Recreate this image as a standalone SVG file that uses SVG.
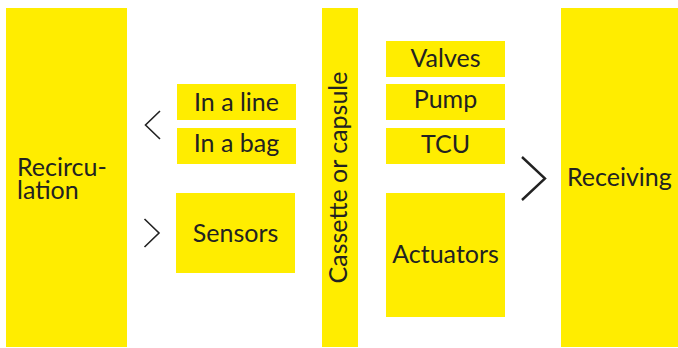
<svg xmlns="http://www.w3.org/2000/svg" width="678" height="348" viewBox="0 0 678 348">
  <style>
    .box { fill: #FFED00; }
    .lbl { font-family: Lato, "Liberation Sans", sans-serif; font-weight: 400; font-size: 25px; fill: #222222; }
    .mid { text-anchor: middle; }
    .chev { fill: none; stroke: #222222; stroke-linecap: butt; stroke-linejoin: miter; }
  </style>
  <rect width="678" height="348" fill="#ffffff"/>

  <g id="recirculation">
    <rect class="box" x="6" y="8" width="121" height="339"/>
    <text class="lbl" x="17" y="175.5">Recircu-<tspan x="17" dy="23">lation</tspan></text>
  </g>

  <g id="in-a-line">
    <rect class="box" x="177" y="84" width="119" height="36"/>
    <text class="lbl mid" x="236.5" y="111">In a line</text>
  </g>

  <g id="in-a-bag">
    <rect class="box" x="177" y="128" width="119" height="36"/>
    <text class="lbl mid" x="236.5" y="152">In a bag</text>
  </g>

  <g id="sensors">
    <rect class="box" x="176" y="193" width="119" height="80"/>
    <text class="lbl mid" x="235.5" y="242">Sensors</text>
  </g>

  <g id="cassette">
    <rect class="box" x="322" y="8" width="36" height="339"/>
    <text class="lbl mid" transform="translate(347 177.5) rotate(-90)" x="0" y="0">Cassette or capsule</text>
  </g>

  <g id="valves">
    <rect class="box" x="386" y="41" width="119" height="36"/>
    <text class="lbl mid" x="445.5" y="67">Valves</text>
  </g>

  <g id="pump">
    <rect class="box" x="386" y="84" width="119" height="36"/>
    <text class="lbl mid" x="445.5" y="108">Pump</text>
  </g>

  <g id="tcu">
    <rect class="box" x="386" y="128" width="119" height="36"/>
    <text class="lbl mid" x="445.5" y="153">TCU</text>
  </g>

  <g id="actuators">
    <rect class="box" x="386" y="193" width="119" height="124"/>
    <text class="lbl mid" x="445.5" y="263">Actuators</text>
  </g>

  <g id="receiving">
    <rect class="box" x="561" y="8" width="117" height="339"/>
    <text class="lbl" x="567" y="185.5">Receiving</text>
  </g>

  <g id="connectors">
    <polyline class="chev" stroke-width="1.6" points="160,111 145.5,125 160,139"/>
    <polyline class="chev" stroke-width="1.6" points="144.5,219 159,233 144.5,247"/>
    <polyline class="chev" stroke-width="2.4" points="522,157 545,178.5 522,200"/>
  </g>
</svg>
